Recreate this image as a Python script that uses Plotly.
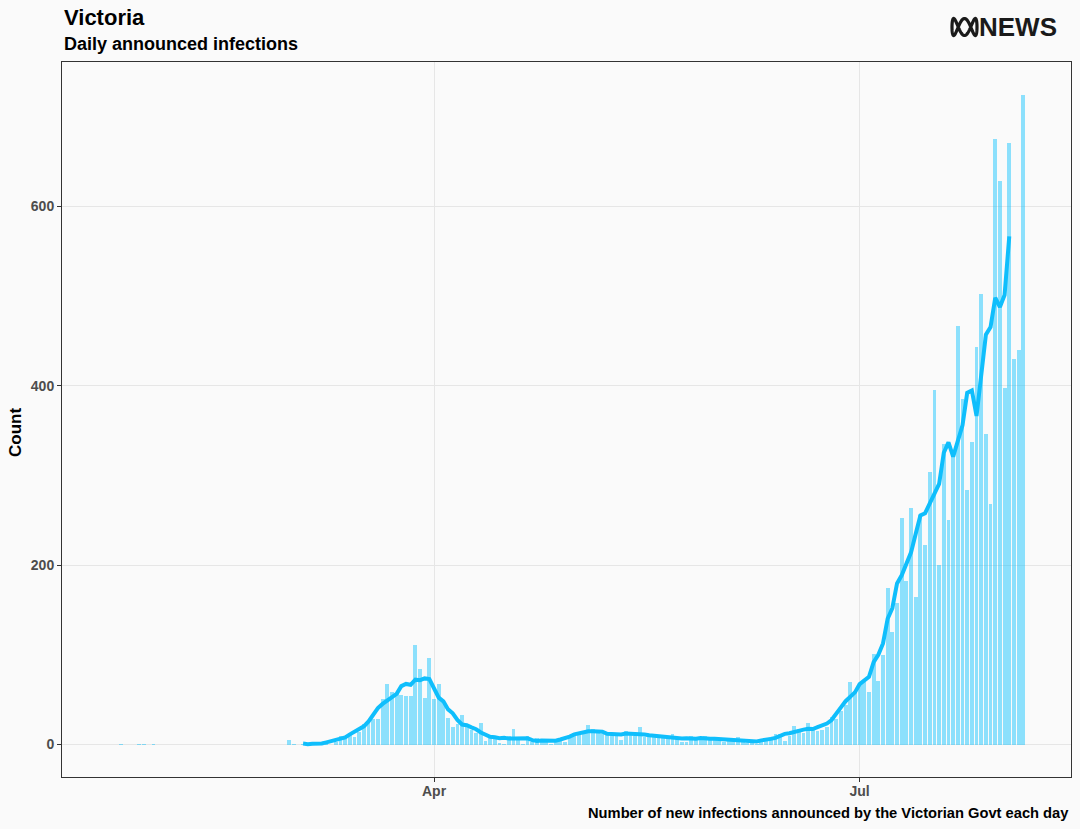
import numpy as np
import pandas as pd
import plotly.graph_objects as go

# ---------------- data ----------------
early_dates = ["2020-01-25", "2020-01-29", "2020-01-30", "2020-02-01"]
early_cases = [1, 1, 1, 1]

mar = [5, 1, 0, 1, 0, 0, 1, 0, 4, 0, 3, 9, 9, 13, 8, 14, 23, 27, 29, 28,
       51, 67, 59, 56, 55, 54, 54, 111, 84, 52, 96]
apr = [51, 68, 49, 30, 20, 23, 33, 21, 16, 13, 24, 4, 8, 8, 2, 1, 9, 17, 8, 1,
       9, 3, 7, 3, 3, 1, 5, 7, 3, 7]
may = [13, 13, 14, 22, 17, 13, 12, 13, 10, 13, 5, 15, 13, 10, 20, 8, 10, 8, 9, 7,
       6, 12, 8, 3, 3, 9, 6, 8, 9, 7, 8]
jun = [4, 3, 6, 5, 8, 4, 2, 2, 1, 3, 4, 8, 12, 12, 4, 9, 21, 17, 13, 24,
       17, 15, 16, 19, 31, 29, 37, 44, 70, 60]
jul = [67, 70, 59, 101, 71, 100, 175, 125, 158, 253, 182, 264, 164, 256, 223,
       304, 395, 200, 335, 250, 327, 467, 385, 284, 337, 443, 502, 346, 268,
       675, 628]
aug = [398, 671, 430, 440, 725]

daily = mar + apr + may + jun + jul + aug
start_date = "2020-03-01"

x_tick_vals = ["2020-04-01", "2020-07-01"]
x_tick_text = ["Apr", "Jul"]
y_tick_vals = [0, 200, 400, 600]

title_text = "Victoria"
subtitle_text = "Daily announced infections"
y_title = "Count"
x_caption = "Number of new infections announced by the Victorian Govt each day"

# ---------------- derived ----------------
dates = pd.date_range(start_date, periods=len(daily), freq="D")
series = pd.Series(daily, index=dates, dtype=float)
rolling = series.rolling(7, center=True).mean()

all_dates = list(pd.to_datetime(early_dates)) + list(dates)
all_cases = early_cases + daily

# ---------------- figure ----------------
W, H = 1080, 829
L, R, T, B = 62, 1071, 62, 777
pw, ph = R - L, B - T

def px(xp):
    return (xp - L) / pw

def py(yp):
    return (B - yp) / ph

fig = go.Figure()
fig.add_trace(go.Bar(
    x=all_dates, y=all_cases,
    width=0.82 * 86400000,
    marker=dict(color="rgba(0,191,255,0.44)", line=dict(width=0)),
    hoverinfo="x+y",
))
fig.add_trace(go.Scatter(
    x=rolling.index, y=rolling.values,
    mode="lines",
    line=dict(color="#0fbefc", width=4),
    connectgaps=False,
))

apr1 = pd.Timestamp("2020-04-01")
x_lo = apr1 - pd.Timedelta(days=79.55)
x_hi = apr1 + pd.Timedelta(days=136.2)

axis_font = dict(family="Liberation Sans, Arial, sans-serif", size=14, color="#4d4d4d")

fig.update_xaxes(
    type="date", range=[x_lo, x_hi],
    tickvals=x_tick_vals, ticktext=["<b>%s</b>" % t for t in x_tick_text],
    showgrid=True, gridcolor="#e6e6e6", gridwidth=1,
    ticks="outside", ticklen=4, tickcolor="#333333",
    tickfont=axis_font, ticklabelstandoff=-3,
    showline=True, mirror=True, linecolor="#333333", linewidth=1,
    zeroline=False,
)
fig.update_yaxes(
    range=[-36.25, 761.25],
    tickvals=y_tick_vals, ticktext=["<b>%d</b>" % v for v in y_tick_vals],
    showgrid=True, gridcolor="#e6e6e6", gridwidth=1,
    ticks="outside", ticklen=4, tickcolor="#333333",
    tickfont=axis_font,
    showline=True, mirror=True, linecolor="#333333", linewidth=1,
    zeroline=False,
)

font_family = "Liberation Sans, Arial, sans-serif"
annotations = [
    dict(text="<b>%s</b>" % title_text, x=px(62), y=py(17), xanchor="left", yanchor="middle",
         font=dict(family=font_family, size=22, color="#000000")),
    dict(text="<b>%s</b>" % subtitle_text, x=px(62), y=py(44), xanchor="left", yanchor="middle",
         font=dict(family=font_family, size=18, color="#000000")),
    dict(text="<b>%s</b>" % x_caption, x=px(1071), y=py(813), xanchor="right", yanchor="middle",
         font=dict(family=font_family, size=14.7, color="#000000")),
    dict(text="<b>%s</b>" % y_title, x=px(15), y=py(433), xanchor="center", yanchor="middle",
         textangle=-90, font=dict(family=font_family, size=17, color="#000000")),
    dict(text="<b>NEWS</b>", x=px(1059), y=py(27), xanchor="right", yanchor="middle",
         font=dict(family=font_family, size=26, color="#1a1a1a")),
]
for a in annotations:
    a.update(xref="paper", yref="paper", showarrow=False)

# ABC logo (Lissajous curve)
t = np.linspace(0, 2 * np.pi, 181)
cx, cy, rx, ry = 964.5, 27.0, 12.5, 8.5
lx = cx + rx * np.sin(t)
ly = cy + ry * np.cos(3 * t)
path = "M " + " L ".join("%.5f,%.5f" % (px(a), py(b)) for a, b in zip(lx, ly)) + " Z"

fig.update_layout(
    width=W, height=H, autosize=False,
    margin=dict(l=L, r=W - R, t=T, b=H - B),
    paper_bgcolor="#fafafa", plot_bgcolor="#fafafa",
    showlegend=False, bargap=0,
    annotations=annotations,
    shapes=[dict(type="path", path=path, xref="paper", yref="paper",
                 line=dict(color="#1a1a1a", width=3.2))],
)

fig.write_html("out.html")
